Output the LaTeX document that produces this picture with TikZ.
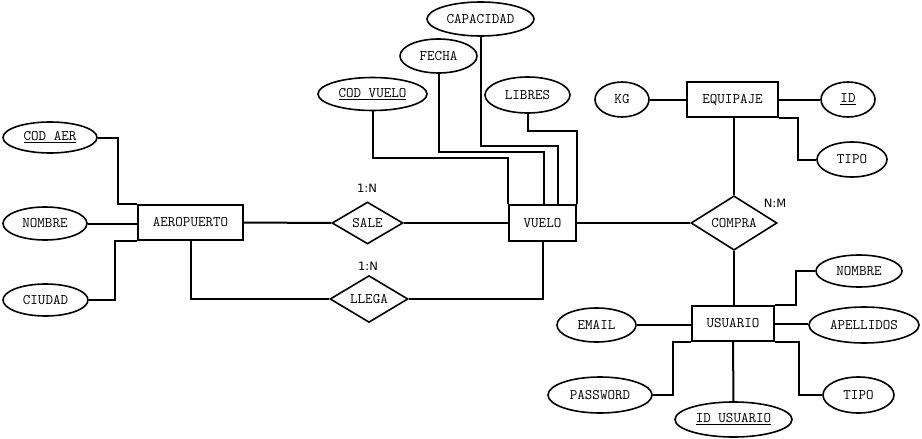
\documentclass[tikz,border=0pt]{standalone}
\usepackage{fontspec}
\newfontfamily\cardfont{DejaVu Sans}
\usetikzlibrary{shapes.geometric}
\begin{document}
\begin{tikzpicture}[x=1pt,y=-1pt,
  every node/.style={font=\ttfamily\fontsize{14.6}{16}\selectfont},
  ent/.style={draw,line width=1.6pt,rectangle,inner sep=0pt},
  att/.style={draw,line width=1.6pt,ellipse,inner sep=0pt},
  rel/.style={draw,line width=1.6pt,diamond,inner sep=0pt},
  conn/.style={line width=2pt},
  card/.style={font=\cardfont\fontsize{11.5}{13}\selectfont}]
\useasboundingbox[fill=white] (0,0) rectangle (922,439);
% entities
\node[ent,minimum width=105pt,minimum height=35pt] (aero) at (190.5,222.5) {AEROPUERTO};
\node[ent,minimum width=67pt,minimum height=36pt] (vuelo) at (542.5,223) {VUELO};
\node[ent,minimum width=91pt,minimum height=35pt] (equipaje) at (732.5,99.5) {EQUIPAJE};
\node[ent,minimum width=82pt,minimum height=35pt] (usuario) at (733,323.5) {USUARIO};
% relationships
\node[rel,minimum width=71pt,minimum height=42pt] (sale) at (367.5,223) {SALE};
\node[rel,minimum width=78pt,minimum height=46pt] (llega) at (369,299) {LLEGA};
\node[rel,minimum width=86pt,minimum height=52pt] (compra) at (734,223) {COMPRA};
% attributes
\node[att,minimum width=94pt,minimum height=31pt] (codaer) at (50,137.5) {\underline{COD AER}};
\node[att,minimum width=84pt,minimum height=33pt] (nombrea) at (45,223.5) {NOMBRE};
\node[att,minimum width=85pt,minimum height=32pt] (ciudad) at (45.5,300) {CIUDAD};
\node[att,minimum width=107pt,minimum height=34pt] (capacidad) at (480.5,19) {CAPACIDAD};
\node[att,minimum width=77pt,minimum height=34pt] (fecha) at (438.5,56) {FECHA};
\node[att,minimum width=109pt,minimum height=33pt] (codvuelo) at (372.5,94) {\underline{COD VUELO}};
\node[att,minimum width=85pt,minimum height=36pt] (libres) at (527.5,95) {LIBRES};
\node[att,minimum width=54pt,minimum height=35pt] (kg) at (622,99.5) {KG};
\node[att,minimum width=54pt,minimum height=35pt] (id) at (848,99.5) {\underline{ID}};
\node[att,minimum width=70pt,minimum height=35pt] (tipoe) at (852,159.5) {TIPO};
\node[att,minimum width=86pt,minimum height=32pt] (nombreu) at (859,271) {NOMBRE};
\node[att,minimum width=110pt,minimum height=36pt] (apellidos) at (864,325) {APELLIDOS};
\node[att,minimum width=79pt,minimum height=34pt] (email) at (596.5,325) {EMAIL};
\node[att,minimum width=104pt,minimum height=36pt] (password) at (600,395) {PASSWORD};
\node[att,minimum width=117pt,minimum height=35pt] (idusuario) at (733.5,419.5) {\underline{ID USUARIO}};
\node[att,minimum width=71pt,minimum height=36pt] (tipou) at (858.5,395) {TIPO};
% cardinalities
\node[card] (c1) at (367,188) {1:N};
\node[card] (c2) at (368,266) {1:N};
\node[card] (c3) at (775,203) {N:M};
% connectors
\draw[conn] (codaer.east) -- ++(20,0) |- (aero.north west);
\draw[conn] (nombrea.east) -- (aero.west |- nombrea.east);
\draw[conn] (ciudad.east) -- ++(26,0) |- (aero.south west);
\draw[conn] (aero.east) -- (sale.west);
\draw[conn] (sale.east) -- (vuelo.west);
\draw[conn] (aero.south) |- (llega.west);
\draw[conn] (llega.east) -| (vuelo.south);
\draw[conn] (codvuelo.south) -- (codvuelo.south |- 0,158) -| (vuelo.north west);
\draw[conn] (fecha.south) -- (fecha.south |- 0,152) -| ([xshift=1pt]vuelo.north);
\draw[conn] (capacidad.south) -- (capacidad.south |- 0,146) -| ([xshift=15.5pt]vuelo.north);
\draw[conn] (libres.south) -- (libres.south |- 0,131) -| (vuelo.north east);
\draw[conn] (vuelo.east) -- (compra.west);
\draw[conn] (compra.north) -- (compra.north |- equipaje.south);
\draw[conn] (compra.south) -- (compra.south |- usuario.north);
\draw[conn] (kg.east) -- (equipaje.west);
\draw[conn] (equipaje.east) -- (id.west);
\draw[conn] (equipaje.south east) -- ++(19,0) |- (tipoe.west);
\draw[conn] (usuario.north east) -- ++(21,0) |- (nombreu.west);
\draw[conn] (usuario.east) -- (apellidos.west |- usuario.east);
\draw[conn] (email.east) -- (usuario.west |- email.east);
\draw[conn] (password.east) -- ++(20,0) |- (usuario.south west);
\draw[conn] (usuario.south) -- (idusuario.north);
\draw[conn] (usuario.south east) -- ++(24,0) |- (tipou.west);
\end{tikzpicture}
\end{document}
